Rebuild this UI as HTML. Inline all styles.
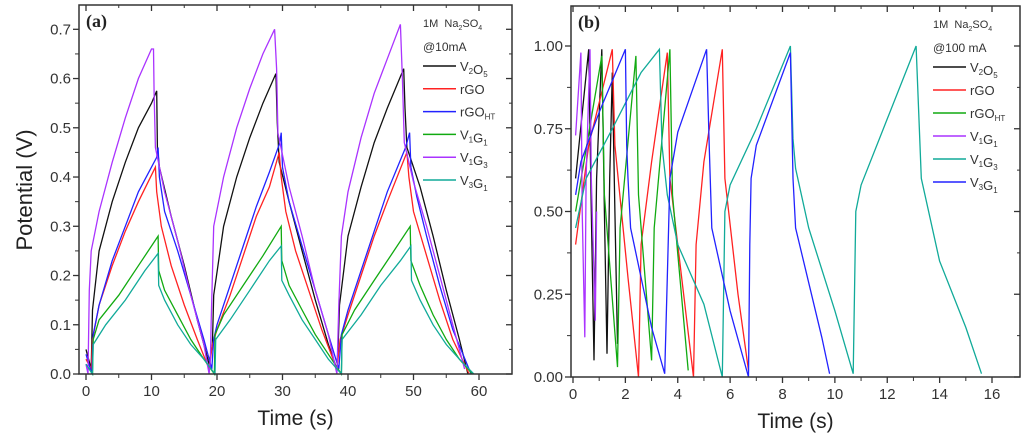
<!DOCTYPE html>
<html><head><meta charset="utf-8"><style>
body{margin:0;background:#fff;}
svg{display:block;font-family:"Liberation Sans",sans-serif;}
</style></head><body>
<svg id="c" width="1024" height="441" viewBox="0 0 1024 441"></svg>
<script>
// ---- Panel (a) data: [time s, potential V]
const aNames=["V2O5","rGO","rGOHT","V1G1","V1G3","V3G1"];
const aV2O5=[[0,0.05],[0.8,0.01],[1,0.13],[2,0.25],[4,0.35],[6,0.43],[8,0.5],[10,0.55],[10.8,0.575],[10.9,0.46],[11.2,0.42],[13,0.32],[15,0.22],[17,0.11],[18.8,0.02],[19.3,0.06],[19.5,0.16],[21,0.3],[23,0.4],[25,0.48],[27,0.55],[29,0.61],[29.2,0.51],[29.5,0.43],[31,0.35],[33,0.25],[35,0.15],[37,0.06],[38.3,0.01],[38.5,0.06],[38.7,0.14],[40,0.28],[42,0.38],[44,0.47],[46,0.54],[48.5,0.62],[48.7,0.54],[49,0.46],[51,0.38],[53,0.28],[55,0.17],[57,0.07],[58.3,0.0]];
const aRGO=[[0,0.03],[0.8,0.01],[1,0.07],[2,0.14],[4,0.22],[6,0.29],[8,0.35],[10.6,0.42],[10.8,0.37],[11.5,0.3],[13,0.22],[15,0.14],[17,0.07],[18.8,0.01],[19.3,0.06],[20,0.09],[22,0.16],[24,0.24],[26,0.32],[28,0.38],[29.5,0.45],[29.8,0.4],[30.5,0.33],[32,0.25],[34,0.17],[36,0.09],[38.3,0.01],[38.8,0.07],[40,0.12],[42,0.2],[44,0.28],[46,0.35],[49,0.45],[49.3,0.4],[50,0.33],[52,0.24],[54,0.15],[56,0.07],[58.5,0.0]];
const aRGOHT=[[0,0.04],[0.9,0.0],[1.1,0.08],[2,0.14],[4,0.23],[6,0.3],[8,0.37],[10.8,0.44],[11,0.46],[11.2,0.4],[12,0.33],[14,0.25],[16,0.16],[18,0.07],[19.2,0.01],[19.5,0.07],[20,0.1],[22,0.18],[24,0.26],[26,0.34],[28,0.41],[29.6,0.47],[29.8,0.49],[30,0.42],[31,0.35],[33,0.26],[35,0.17],[37,0.08],[38.6,0.01],[39,0.08],[40,0.13],[42,0.21],[44,0.29],[46,0.37],[48.8,0.46],[49.4,0.49],[49.6,0.42],[50.5,0.36],[52,0.28],[54,0.18],[56,0.09],[58.8,0.0]];
const aV1G1=[[0,0.02],[1,0.0],[1.1,0.07],[2,0.11],[5,0.16],[8,0.22],[11,0.28],[11.1,0.21],[12,0.17],[14,0.12],[16,0.07],[18,0.03],[19.6,0.0],[19.7,0.08],[21,0.12],[24,0.18],[27,0.24],[29.8,0.3],[29.9,0.23],[31,0.18],[33,0.13],[35,0.08],[37,0.04],[39,0.0],[39.1,0.08],[41,0.13],[44,0.19],[47,0.25],[49.5,0.3],[49.6,0.23],[51,0.18],[53,0.12],[55,0.07],[57,0.03],[59,0.0]];
const aV1G3=[[0,0.02],[0.3,0.0],[0.5,0.17],[0.8,0.25],[2,0.33],[4,0.43],[6,0.52],[8,0.6],[10,0.66],[10.3,0.66],[10.4,0.57],[10.6,0.46],[12,0.37],[14,0.27],[16,0.16],[18,0.06],[18.8,0.0],[19,0.03],[19.1,0.1],[19.5,0.3],[21,0.4],[23,0.5],[25,0.58],[27,0.65],[28.8,0.7],[29.1,0.62],[29.3,0.49],[31,0.38],[33,0.28],[35,0.17],[37,0.08],[38.3,0.0],[38.6,0.14],[39,0.28],[40,0.37],[42,0.48],[44,0.57],[46,0.64],[48,0.71],[48.3,0.6],[48.6,0.47],[50,0.39],[52,0.3],[54,0.2],[56,0.1],[57.8,0.01]];
const aV3G1=[[0,0.02],[1,0.0],[1.1,0.06],[3,0.1],[6,0.15],[9,0.21],[11,0.245],[11.1,0.18],[12,0.15],[14,0.1],[16,0.06],[18,0.03],[19.7,0.0],[19.8,0.07],[22,0.11],[25,0.17],[28,0.23],[29.8,0.26],[29.9,0.19],[31,0.16],[33,0.11],[35,0.07],[37,0.03],[39,0.0],[39.1,0.07],[42,0.12],[45,0.18],[48,0.23],[49.6,0.26],[49.7,0.19],[51,0.15],[53,0.1],[55,0.06],[57,0.03],[59.2,0.0]];
const aXTicks=[0,10,20,30,40,50,60];
const aYTicks=[0.0,0.1,0.2,0.3,0.4,0.5,0.6,0.7];
// ---- Panel (b) data
const bV2O5=[[0.1,0.6],[0.6,0.99],[0.7,0.5],[0.8,0.05],[0.9,0.6],[1.1,0.99],[1.2,0.5],[1.3,0.07],[1.4,0.6],[1.5,0.92],[1.6,0.5],[1.7,0.1]];
const bRGO=[[0.1,0.4],[0.6,0.7],[1.5,0.99],[1.6,0.7],[2.1,0.3],[2.5,0.0],[2.6,0.4],[3,0.65],[3.6,0.98],[3.7,0.6],[4.3,0.2],[4.6,0.0],[4.7,0.4],[5,0.65],[5.7,0.99],[5.8,0.6],[6.3,0.25],[6.7,0.02]];
const bRGOHT=[[0.1,0.5],[1.1,0.97],[1.2,0.55],[1.7,0.03],[1.8,0.45],[2.4,0.97],[2.5,0.55],[3,0.05],[3.1,0.45],[3.7,0.99],[3.8,0.55],[4.4,0.02]];
const bV1G1=[[0.1,0.73],[0.3,0.98],[0.35,0.5],[0.45,0.12],[0.5,0.6],[0.65,0.99],[0.7,0.6],[0.85,0.17],[0.9,0.5]];
const bV1G3=[[0.1,0.45],[0.5,0.6],[1.5,0.75],[2.6,0.92],[3.3,0.99],[3.4,0.7],[3.6,0.55],[4,0.4],[5,0.22],[5.7,0.0],[5.75,0.25],[5.8,0.5],[6,0.58],[7,0.75],[8.3,1.0],[8.4,0.72],[8.5,0.63],[9,0.45],[10,0.2],[10.7,0.01],[10.8,0.5],[11,0.58],[12,0.78],[13.1,1.0],[13.2,0.8],[13.3,0.6],[14,0.35],[15,0.15],[15.6,0.01]];
const bV3G1=[[0.1,0.55],[0.3,0.65],[1,0.8],[2,0.99],[2.05,0.7],[2.1,0.6],[2.2,0.45],[3,0.15],[3.5,0.01],[3.6,0.3],[3.7,0.6],[4,0.74],[5.1,0.99],[5.2,0.7],[5.3,0.45],[6,0.2],[6.7,0.0],[6.75,0.4],[6.8,0.6],[7,0.7],[8.3,0.98],[8.4,0.6],[8.5,0.45],[9.5,0.12],[9.8,0.01]];
const bXTicks=[0,2,4,6,8,10,12,14,16];
const bYTicks=[0.00,0.25,0.50,0.75,1.00];

const NS="http://www.w3.org/2000/svg";
const svg=document.getElementById('c');
function mk(tag,attrs,parent){const e=document.createElementNS(NS,tag);for(const k in attrs)e.setAttribute(k,attrs[k]);(parent||svg).appendChild(e);return e;}

function panel(o){
  const g=mk('g',{});
  
  
  const sx=v=>o.x0+(v-o.xmin)*(o.x1-o.x0)/(o.xmax-o.xmin);
  const sy=v=>o.y0+(v-o.ymin)*(o.y1-o.y0)/(o.ymax-o.ymin);
  // series
  o.series.forEach(s=>{
    const p=mk('polyline',{points:s.d.map(q=>sx(q[0]).toFixed(1)+','+sy(q[1]).toFixed(1)).join(' '),fill:'none',stroke:s.c,'stroke-width':1.3},g);
    
    
  });
  // frame
  const f=mk('rect',{x:o.L,y:o.T,width:o.R-o.L,height:o.B-o.T,fill:'none',stroke:'#333','stroke-width':1.5},g);
  
  
  // x ticks
  o.xt.forEach((v,i)=>{
    const x=sx(v);
    mk('line',{x1:x,x2:x,y1:o.B,y2:o.B+6,stroke:'#333','stroke-width':1.3},g);
    mk('line',{x1:x,x2:x,y1:o.T,y2:o.T+6,stroke:'#333','stroke-width':1.3},g);
    if(i<o.xt.length-1){const xm=sx((v+o.xt[i+1])/2);
      mk('line',{x1:xm,x2:xm,y1:o.B,y2:o.B+4,stroke:'#333','stroke-width':1},g);
      mk('line',{x1:xm,x2:xm,y1:o.T,y2:o.T+3,stroke:'#333','stroke-width':1},g);}
    const t=mk('text',{x:x,y:o.B+22,'text-anchor':'middle','font-size':15,fill:'#333'},g);
    t.textContent=v;
    
    
  });
  o.yt.forEach((v,i)=>{
    const y=sy(v);
    mk('line',{x1:o.L-6,x2:o.L,y1:y,y2:y,stroke:'#333','stroke-width':1.3},g);
    mk('line',{x1:o.R-6,x2:o.R,y1:y,y2:y,stroke:'#333','stroke-width':1.3},g);
    if(i<o.yt.length-1){const ym=sy((v+o.yt[i+1])/2);
      mk('line',{x1:o.L-4,x2:o.L,y1:ym,y2:ym,stroke:'#333','stroke-width':1},g);
      mk('line',{x1:o.R-3,x2:o.R,y1:ym,y2:ym,stroke:'#333','stroke-width':1},g);}
    const t=mk('text',{x:o.L-8,y:y+5,'text-anchor':'end','font-size':15,fill:'#333'},g);
    t.textContent=v.toFixed(o.yd);
    
    
  });
  const xl=mk('text',{x:(o.L+o.R)/2,y:o.B+51,'text-anchor':'middle','font-size':21,fill:'#222'},g);
  xl.textContent='Time (s)';
  
  
  const pl=mk('text',{x:o.L+7,y:o.T+22,'font-size':18,'font-weight':'bold','font-family':'Liberation Serif, serif',fill:'#222'},g);
  pl.textContent=o.label;
  
  
  // legend
  const lg=mk('g',{},g);
  
  
  const h1=mk('text',{x:o.lx,y:o.ly,'font-size':11,fill:'#333'},lg);
  h1.innerHTML='1M&#160; Na<tspan font-size="7" dy="3">2</tspan><tspan dy="-3">SO</tspan><tspan font-size="7" dy="3">4</tspan>';
  const h2=mk('text',{x:o.lx,y:o.ly+24,'font-size':12,fill:'#333'},lg);
  h2.textContent=o.cur;
  o.series.forEach((s,i)=>{
    const y=o.ly+39+i*o.lstep;
    const e=mk('g',{},lg);
    
    
    mk('line',{x1:o.lx,x2:o.lx+33,y1:y,y2:y,stroke:s.c,'stroke-width':1.5},e);
    const t=mk('text',{x:o.lx+37,y:y+5,'font-size':13,fill:'#333'},e);
    t.innerHTML=s.lbl;
  });
}
const sub=(a)=>'<tspan font-size="8" dy="3">'+a+'</tspan><tspan dy="-3"></tspan>';
const L={V2O5:'V'+sub('2')+'O'+sub('5'),rGO:'rGO',rGOHT:'rGO'+sub('HT'),V1G1:'V'+sub('1')+'G'+sub('1'),V1G3:'V'+sub('1')+'G'+sub('3'),V3G1:'V'+sub('3')+'G'+sub('1')};

panel({id:'panel-a',label:'(a)',L:79,R:512,T:5,B:374,xmin:0,xmax:60,x0:86,x1:479,ymin:0,ymax:0.7,y0:374,y1:29.3,xt:aXTicks,yt:aYTicks,yd:1,lx:423,ly:27,lstep:22.8,cur:'@10mA',
 series:[{n:'v2o5',c:'#111',d:aV2O5,lbl:L.V2O5},{n:'rgo',c:'#f22',d:aRGO,lbl:L.rGO},{n:'rgoht',c:'#22f',d:aRGOHT,lbl:L.rGOHT},{n:'v1g1',c:'#1a1',d:aV1G1,lbl:L.V1G1},{n:'v1g3',c:'#a3f',d:aV1G3,lbl:L.V1G3},{n:'v3g1',c:'#1a9',d:aV3G1,lbl:L.V3G1}]});
panel({id:'panel-b',label:'(b)',L:571,R:1020,T:6,B:377,xmin:0,xmax:16,x0:573,x1:992,ymin:0,ymax:1,y0:377,y1:46,xt:bXTicks,yt:bYTicks,yd:2,lx:933,ly:28,lstep:23,cur:'@100 mA',
 series:[{n:'v2o5',c:'#111',d:bV2O5,lbl:L.V2O5},{n:'rgo',c:'#f22',d:bRGO,lbl:L.rGO},{n:'rgoht',c:'#1a1',d:bRGOHT,lbl:L.rGOHT},{n:'v1g1',c:'#a3f',d:bV1G1,lbl:L.V1G1},{n:'v1g3',c:'#1a9',d:bV1G3,lbl:L.V1G3},{n:'v3g1',c:'#22f',d:bV3G1,lbl:L.V3G1}]});

const yl=mk('text',{x:0,y:0,'text-anchor':'middle','font-size':22,fill:'#222',transform:'translate(32,190) rotate(-90)'});
yl.textContent='Potential (V)';


</script>
</body></html>
